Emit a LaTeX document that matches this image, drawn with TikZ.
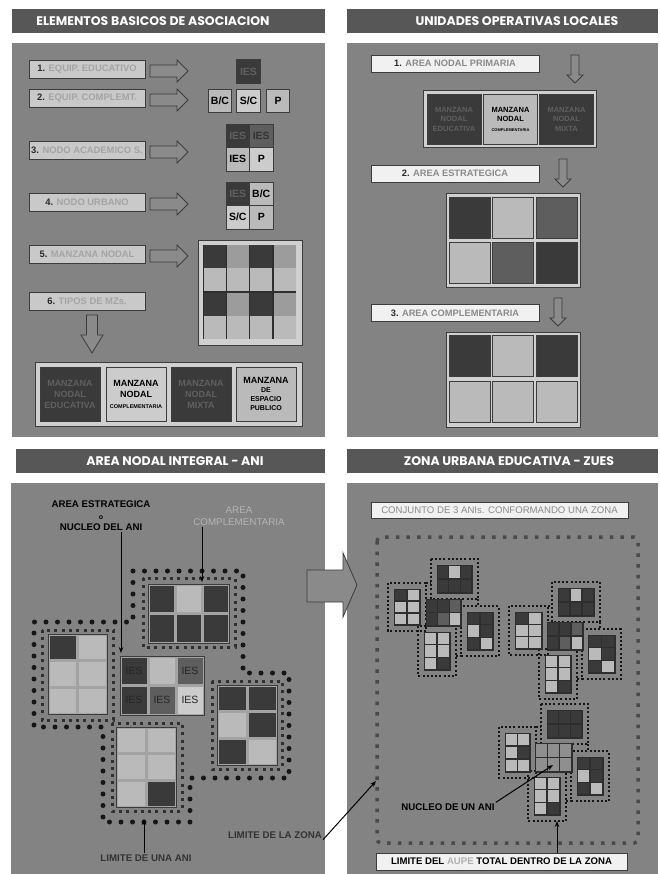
\documentclass[tikz,border=0pt]{standalone}
\usepackage{fontspec}
\setmainfont{Liberation Sans}
\newfontfamily\titlefont{Poppins}
\usetikzlibrary{arrows.meta}
\definecolor{panel}{HTML}{838383}
\definecolor{titlec}{HTML}{575757}
\definecolor{dk}{HTML}{3a3a3a}
\definecolor{md}{HTML}{5e5e5e}
\definecolor{mg}{HTML}{9c9c9c}
\definecolor{lt}{HTML}{bababa}
\definecolor{lt2}{HTML}{cccccc}
\definecolor{cm}{HTML}{8f8f8f}
\definecolor{frm}{HTML}{d0d0d0}
\definecolor{edge}{HTML}{3c3c3c}
\definecolor{dtxt}{HTML}{606060}
\definecolor{labfill}{HTML}{c9c9c9}
\definecolor{labtxt}{HTML}{a4a4a4}
\definecolor{wfill}{HTML}{f1f1f1}
\definecolor{wtxt}{HTML}{8a8a8a}
\definecolor{numc}{HTML}{2a2a2a}
\definecolor{arrfill}{HTML}{8a8a8a}
\definecolor{bigdot}{HTML}{161616}
\definecolor{ringc}{HTML}{303030}
\definecolor{zonec}{HTML}{4a4a4a}
\definecolor{actxt}{HTML}{b4b4b4}
\definecolor{frameA}{HTML}{a3a3a3}
\definecolor{frameB}{HTML}{2e2e2e}
\definecolor{aupec}{HTML}{b0b0b0}
\def\gp{1}
\newcommand\myblk[7]{%
  \draw[blkframe] (#1,#2) rectangle (#3,#4);
  \pgfmathsetmacro\mycw{(#3-#1)/#5}%
  \pgfmathsetmacro\mych{(#4-#2)/#6}%
  \foreach \cl [count=\i from 0] in {#7} {%
    \pgfmathtruncatemacro\mycc{mod(\i,#5)}%
    \pgfmathtruncatemacro\myrr{div(\i,#5)}%
    \fill[fill=\cl] ({#1+\mycc*\mycw+\gp},{#2+\myrr*\mych+\gp}) rectangle ({#1+(\mycc+1)*\mycw-\gp},{#2+(\myrr+1)*\mych-\gp});
  }%
}
\begin{document}
\begin{tikzpicture}[x=1pt,y=-1pt,
  titletext/.style={text=white,font=\titlefont\bfseries\fontsize{12.5}{14}\selectfont,inner sep=0},
  lab/.style={fill=labfill,draw=edge,line width=0.7pt,minimum width=116,minimum height=18,inner sep=0,text=labtxt,font=\bfseries\fontsize{9.4}{10}\selectfont},
  wlab/.style={fill=wfill,draw=edge,line width=0.6pt,minimum width=168,minimum height=17,inner sep=0,text=wtxt,font=\bfseries\fontsize{9.3}{10}\selectfont},
  tcell/.style={draw=edge,line width=0.6pt,minimum width=23.5,minimum height=23.5,inner sep=0,text=black,font=\bfseries\fontsize{10.5}{12}\selectfont},
  scell/.style={draw=edge,line width=0.6pt,minimum width=60,minimum height=54,inner sep=0,align=center,font=\bfseries\fontsize{9}{11}\selectfont},
  rcell/.style={draw=edge,line width=0.6pt,minimum width=54,minimum height=50,inner sep=0,align=center,font=\bfseries\fontsize{7.5}{9.5}\selectfont},
  blkarrow/.style={fill=arrfill,draw=edge,line width=0.8pt,line join=miter},
  bigdots/.style={draw=bigdot,line width=5pt,line cap=round,dash pattern=on 0pt off 11.5pt},
  ringdots/.style={draw=ringc,line width=3pt,dash pattern=on 3pt off 4.3pt},
  minidots/.style={draw=bigdot,line width=2pt,dash pattern=on 2pt off 2.2pt},
  zonedots/.style={draw=zonec,line width=3.5pt,dash pattern=on 3.5pt off 7.2pt},
  anitxt/.style={inner sep=1,text=black,font=\bfseries\fontsize{9.7}{11.5}\selectfont,align=center},
  iestxt/.style={inner sep=0,text=black!85,font=\fontsize{10.5}{12}\selectfont},
  ptr/.style={draw=black,line width=1pt,-{Stealth[length=6pt,width=4.5pt]}},
  rblk/.pic={\draw[blkarrow] (0,-6) -- (27,-6) -- (27,-11) -- (38,0) -- (27,11) -- (27,6) -- (0,6) -- cycle;},
  dblk/.pic={\draw[blkarrow] (-5.5,0) -- (-5.5,20) -- (-11,20) -- (0,38) -- (11,20) -- (5.5,20) -- (5.5,0) -- cycle;},
  dsm/.pic={\draw[blkarrow] (-4,0) -- (-4,20) -- (-8,20) -- (0,28) -- (8,20) -- (4,20) -- (4,0) -- cycle;}
]
\useasboundingbox (0,0) rectangle (660,874);
\fill[white] (0,0) rectangle (660,874);

% ================= TOP LEFT =================
\fill[titlec] (12,9) rectangle (325,33);
\node[titletext] (t1) at (153,21.5) {ELEMENTOS BASICOS DE ASOCIACION};
\fill[panel] (12,43) rectangle (325,437);

\node[lab] (l1) at (87,69.5) {{\color{numc}1.} EQUIP. EDUCATIVO};
\node[lab] (l2) at (87,98) {{\color{numc}2.} EQUIP. COMPLEMT.};
\node[lab] (l3) at (87,150) {{\color{numc}3.} NODO ACADEMICO S.};
\node[lab] (l4) at (87,202) {{\color{numc}4.} NODO URBANO};
\node[lab] (l5) at (87,254.5) {{\color{numc}5.} MANZANA NODAL};
\node[lab] (l6) at (87,301.5) {{\color{numc}6.} TIPOS DE MZs.};

\pic at (150,71) {rblk};
\pic at (150,100) {rblk};
\pic at (150,152) {rblk};
\pic at (150,204) {rblk};
\pic at (150,256) {rblk};
\pic at (92,315) {dblk};

\node[tcell,fill=dk,text=dtxt] (ies) at (248.5,71.5) {IES};
\node[tcell,fill=lt] (bc) at (220,101) {B/C};
\node[tcell,fill=lt2] (sc) at (248.5,101) {S/C};
\node[tcell,fill=lt] (pp) at (278,101) {P};

\node[tcell,fill=dk,text=dtxt] (g3a) at (237.75,135.75) {IES};
\node[tcell,fill=md,text=black!80] (g3b) at (261.25,135.75) {IES};
\node[tcell,fill=lt] (g3c) at (237.75,159.25) {IES};
\node[tcell,fill=lt2] (g3d) at (261.25,159.25) {P};

\node[tcell,fill=dk,text=dtxt] (g4a) at (237.75,193.75) {IES};
\node[tcell,fill=lt] (g4b) at (261.25,193.75) {B/C};
\node[tcell,fill=lt2] (g4c) at (237.75,217.25) {S/C};
\node[tcell,fill=lt] (g4d) at (261.25,217.25) {P};

% manzana nodal 4x4
\draw[fill=frm,draw=edge,line width=0.7pt] (198,240) rectangle (302,345);
\fill[frameB] (203,245) rectangle (296,339);
\foreach \xx/\yy/\cl in {
  203.5/245.5/dk, 226.5/245.5/mg, 250/245.5/dk, 273.5/245.5/mg,
  203.5/268.5/lt, 226.5/268.5/lt, 250/268.5/lt, 273.5/268.5/lt,
  203.5/293/dk, 226.5/293/mg, 250/293/dk, 273.5/293/mg,
  203.5/316/lt, 226.5/316/lt, 250/316/lt, 273.5/316/lt}
  \fill[fill=\cl] (\xx,\yy) rectangle ++(22,22.5);

% tipos de manzanas
\draw[fill=frm,draw=edge,line width=0.7pt] (35,362) rectangle (302,426);
\node[scell,fill=dk,text=dtxt] (mz1) at (70,394) {MANZANA\\NODAL\\EDUCATIVA};
\node[scell,fill=lt2,text=black] (mz2) at (136,394) {MANZANA\\NODAL\\{\fontsize{5.5}{7}\selectfont COMPLEMENTARIA}};
\node[scell,fill=dk,text=dtxt] (mz3) at (201,394) {MANZANA\\NODAL\\MIXTA};
\node[scell,fill=lt,text=black,font=\bfseries\fontsize{7}{9}\selectfont] (mz4) at (266,394) {{\fontsize{9}{11}\selectfont MANZANA}\\DE\\ESPACIO\\PUBLICO};

% ================= TOP RIGHT =================
\fill[titlec] (347,9) rectangle (658,33);
\node[titletext] (t2) at (517,21.5) {UNIDADES OPERATIVAS LOCALES};
\fill[panel] (347,43) rectangle (658,437);

\node[wlab] (r1) at (455,63.5) {{\color{numc}1.} AREA NODAL PRIMARIA};
\pic at (575,55) {dsm};
\draw[fill=frm,draw=edge,line width=0.7pt] (423,90) rectangle (596,147);
\node[rcell,fill=dk,text=dtxt] (p1) at (454,119) {MANZANA\\NODAL\\EDUCATIVA};
\node[rcell,fill=lt,text=black] (p2) at (510.5,119) {MANZANA\\NODAL\\{\fontsize{4}{6}\selectfont COMPLEMENTARIA}};
\node[rcell,fill=dk,text=dtxt] (p3) at (566.5,119) {MANZANA\\NODAL\\MIXTA};

\node[wlab] (r2) at (455,173.5) {{\color{numc}2.} AREA ESTRATEGICA};
\pic at (563,159) {dsm};
\draw[fill=frm,draw=edge,line width=0.7pt] (446,193) rectangle (580,287);
\foreach \xx/\yy/\cl in {449/197/dk, 492.5/197/lt, 536/197/md, 449/242/lt, 492.5/242/md, 536/242/dk}
  \draw[draw=edge,line width=0.5pt,fill=\cl] (\xx,\yy) rectangle ++(41,41.5);

\node[wlab] (r3) at (455,313) {{\color{numc}3.} AREA COMPLEMENTARIA};
\pic at (558,298) {dsm};
\draw[fill=frm,draw=edge,line width=0.7pt] (446,332) rectangle (580,427);
\foreach \xx/\yy/\cl in {449/335/dk, 492.5/335/lt, 536/335/dk, 449/381/lt, 492.5/381/lt, 536/381/lt}
  \draw[draw=edge,line width=0.5pt,fill=\cl] (\xx,\yy) rectangle ++(41,41.5);

% ================= BOTTOM LEFT =================
\fill[titlec] (16,449) rectangle (325,473);
\node[titletext] (t3) at (175,461) {AREA NODAL INTEGRAL - ANI};
\fill[panel] (11,483) rectangle (325,874);

\draw[bigdots] (133,571) -- (243,571) -- (243,673) -- (289,673) -- (289,778) -- (190,778) -- (190,822) -- (103,822) -- (103,727) -- (34,727) -- (34,622) -- (133,622) -- cycle;
\draw[ringdots] (143,578) rectangle (235,647);
\draw[ringdots] (42,630) rectangle (113,720);
\draw[ringdots] (212,681) rectangle (282,769);
\draw[ringdots] (112,723) rectangle (182,811);

\begin{scope}[blkframe/.style={fill=frameA,draw=edge,line width=0.8pt}]
\def\gp{1.5}
\myblk{148}{584}{229}{643}{3}{2}{dk,lt,dk,dk,dk,dk}
\myblk{48}{634}{107}{714}{2}{3}{dk,lt,lt,lt,lt,lt}
\myblk{120}{656}{204}{715}{3}{2}{dk,lt,md,dk,md,lt2}
\myblk{217}{685}{277}{765}{2}{3}{dk,dk,lt,dk,dk,lt}
\myblk{116}{727}{176}{807}{2}{3}{lt,lt,lt,lt,lt,dk}
\end{scope}
\node[iestxt] (c1) at (134,671) {IES};
\node[iestxt] (c3) at (190,671) {IES};
\node[iestxt] (c4) at (134,700) {IES};
\node[iestxt] (c5) at (162,700) {IES};
\node[iestxt] (c6) at (190,700) {IES};

\node[anitxt] (ae) at (101,516) {AREA ESTRATEGICA\\{\fontsize{7}{9}\selectfont o}\\NUCLEO DEL ANI};
\coordinate (aeTip) at (121,653);
\draw[ptr] (aeTip |- ae.south) -- (aeTip);
\node[anitxt,text=actxt,font=\fontsize{9.8}{12}\selectfont] (ac) at (239,516) {AREA\\COMPLEMENTARIA};
\coordinate (acTip) at (202,582);
\draw[ptr] (acTip |- ac.south) -- (acTip);

\node[anitxt,text=black!80] (lu) at (146,858) {LIMITE DE UNA ANI};
\coordinate (luTip) at (144,819);
\draw[ptr] (luTip |- lu.north) -- (luTip);

\node[anitxt,text=black!80] (lz) at (275,835) {LIMITE DE LA ZONA};

% ================= BOTTOM RIGHT =================
\fill[titlec] (347,449) rectangle (658,473);
\node[titletext] (t4) at (509,461) {ZONA URBANA EDUCATIVA - ZUES};
\fill[panel] (347,483) rectangle (658,874);

\node[wlab,minimum width=257,minimum height=16,font=\fontsize{9.6}{10}\selectfont] (z1) at (499.5,510) {CONJUNTO DE 3 ANIs. CONFORMANDO UNA ZONA};
\draw[zonedots,rounded corners=4pt] (377,537) rectangle (638,843);

% mini rings and their links
\foreach \ax/\ay/\bx/\by in {431/559/478/599, 388/583/426/631, 461/606/499/656, 418/626/456/676,
  552/582/600/622, 509/606/548/655, 582/629/621/679, 539/649/577/699,
  541/704/588/744, 499/727/536/778, 571/751/609/801, 528/771/566/821}
  \draw[minidots] (\ax,\ay) rectangle (\bx,\by);
\foreach \ax/\ay/\bx/\by in {426/583/431/583, 478/599/478/606, 456/656/461/656,
  548/606/552/606, 600/622/600/629, 577/679/582/679,
  536/727/541/727, 588/744/588/751, 566/801/571/801}
  \draw[minidots] (\ax,\ay) -- (\bx,\by);

\begin{scope}[blkframe/.style={fill=frameB,draw=frameB,line width=0.6pt}]
\def\gp{0.7}
\myblk{437}{565}{472}{593}{3}{2}{dk,lt,dk,dk,dk,dk}
\myblk{394}{589}{420}{625}{2}{3}{dk,lt,lt,lt,lt,lt}
\myblk{426}{599}{461}{626}{3}{2}{dk,dk,md,dk,md,lt}
\myblk{467}{612}{493}{650}{2}{3}{dk,dk,lt,dk,dk,lt}
\myblk{424}{632}{450}{670}{2}{3}{lt,lt,lt,lt,lt,dk}
\myblk{558}{588}{594}{616}{3}{2}{dk,lt,dk,dk,dk,dk}
\myblk{515}{612}{542}{649}{2}{3}{dk,lt,lt,lt,lt,lt}
\myblk{547}{622}{583}{650}{3}{2}{dk,dk,md,dk,md,lt}
\myblk{588}{635}{615}{673}{2}{3}{dk,dk,lt,dk,dk,lt}
\myblk{545}{655}{571}{693}{2}{3}{lt,lt,lt,lt,lt,dk}
\myblk{547}{710}{582}{738}{3}{2}{dk,dk,dk,dk,dk,dk}
\myblk{505}{733}{530}{772}{2}{3}{lt,lt,lt,dk,lt,lt}
\myblk{535}{743}{572}{772}{3}{2}{cm,cm,cm,cm,cm,cm}
\myblk{577}{757}{603}{795}{2}{3}{dk,dk,lt,dk,dk,lt}
\myblk{534}{777}{560}{815}{2}{3}{lt,lt,lt,lt,lt,dk}
\end{scope}

\node[anitxt] (nuc) at (448,807) {NUCLEO DE UN ANI};
\coordinate (nucTip) at (553,765);
\draw[ptr] (nuc.north east) -- (nucTip);

\node[wlab,minimum width=251,minimum height=17,text=black,font=\bfseries\fontsize{9.6}{10}\selectfont] (z2) at (501.5,861.5) {LIMITE DEL {\color{aupec}AUPE} TOTAL DENTRO DE LA ZONA};
\coordinate (aupeTip) at (557,821);
\draw[ptr] (aupeTip |- z2.north) -- (aupeTip);

% connector across panels
\coordinate (zoneTip) at (376,781);
\draw[ptr] (lz.south east) -- (zoneTip);

% big arrow between bottom panels
\draw[blkarrow] (307,570) -- (343,570) -- (343,553) -- (357,585) -- (343,617) -- (343,602) -- (307,602) -- cycle;
\end{tikzpicture}
\end{document}
